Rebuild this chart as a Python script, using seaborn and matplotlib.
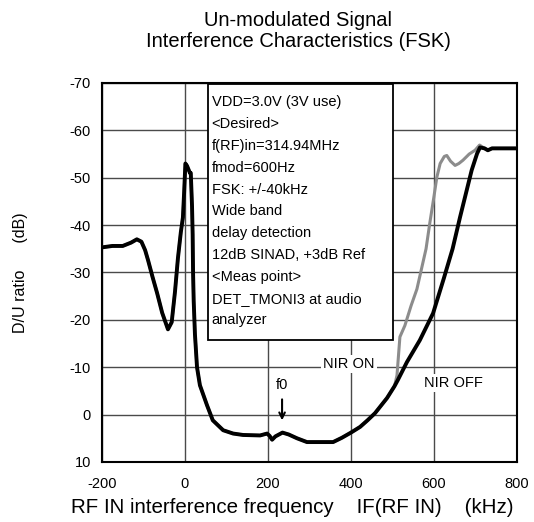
import pandas as pd
import numpy as np
import matplotlib
matplotlib.use('Agg')
import matplotlib.pyplot as plt
import matplotlib.patches as patches
import seaborn as sns

# NIR OFF (black) curve
freq_off = [-200, -175, -150, -130, -116, -105, -96, -89, -78, -67, -55, -41, -32,
            -24, -20, -17, -10, -5, -2, 1, 5, 12, 14, 17, 18.5, 19.5, 21, 24, 29,
            36, 53, 67, 92, 116, 140, 181, 198, 204, 210, 218, 235, 250, 270, 294,
            357, 378, 400, 422, 440, 458, 487, 505, 513, 535, 566, 598, 624, 645,
            663, 691, 704, 711, 722, 730, 740, 800]
du_off = [-35.3, -35.6, -35.6, -36.3, -37.0, -36.5, -34.7, -32.6, -29.0, -25.6, -21.5,
          -18.0, -19.5, -26.0, -30.0, -33.0, -38.5, -41.6, -47.0, -53.0, -52.5, -51.0,
          -51.0, -44.0, -38.0, -30.0, -24.0, -17.0, -10.0, -6.2, -2.0, 1.2, 3.3, 4.0,
          4.3, 4.4, 4.0, 4.5, 5.3, 4.6, 3.8, 4.2, 5.0, 5.8, 5.8, 4.9, 3.8, 2.6, 1.2,
          -0.3, -3.5, -6.0, -7.3, -11.1, -15.7, -21.4, -28.8, -35.0, -41.7, -51.6,
          -55.1, -56.4, -56.2, -55.8, -56.2, -56.2]

# NIR ON (gray) curve: same as NIR OFF up to ~505 kHz, then this tail
freq_on_tail = [511, 518, 530, 545, 559, 581, 590, 600, 607, 615, 625, 631, 640,
                651, 660, 670, 685, 699, 710, 722, 730, 740, 800]
du_on_tail = [-8.3, -16.4, -18.8, -23.0, -26.5, -35.0, -40.4, -46.0, -50.1, -53.0,
              -54.5, -54.7, -53.5, -52.6, -53.0, -53.7, -55.0, -55.8, -56.9, -56.2,
              -55.8, -56.2, -56.2]

x_ticks = [-200, 0, 200, 400, 600, 800]
y_ticks = [-70, -60, -50, -40, -30, -20, -10, 0, 10]

box_lines = ['VDD=3.0V (3V use)', '<Desired>', 'f(RF)in=314.94MHz', 'fmod=600Hz',
             'FSK: +/-40kHz', 'Wide band', 'delay detection', '12dB SINAD, +3dB Ref',
             '<Meas point>', 'DET_TMONI3 at audio', 'analyzer']

off_df = pd.DataFrame({'freq': freq_off, 'du': du_off})
common = off_df[off_df['freq'] <= 505]
on_df = pd.concat([common, pd.DataFrame({'freq': freq_on_tail, 'du': du_on_tail})],
                  ignore_index=True)

sns.set_style('white')
plt.rcParams['font.family'] = ['Liberation Sans', 'DejaVu Sans']
plt.rcParams['text.color'] = 'black'
plt.rcParams['axes.labelcolor'] = 'black'
plt.rcParams['xtick.color'] = 'black'
plt.rcParams['ytick.color'] = 'black'

fig = plt.figure(figsize=(5.34, 5.22), dpi=100)
ax = fig.add_axes([0.191, 0.115, 0.777, 0.726])

sns.lineplot(data=on_df, x='freq', y='du', color='#8c8c8c', linewidth=2.2,
             sort=False, ax=ax, zorder=4)
sns.lineplot(data=off_df, x='freq', y='du', color='black', linewidth=2.8,
             sort=False, ax=ax, zorder=5)

ax.set_xlim(-200, 800)
ax.set_ylim(10, -70)
ax.set_xticks(x_ticks)
ax.set_yticks(y_ticks)
ax.set_xticklabels([str(t) for t in x_ticks], fontsize=10.5)
ax.set_yticklabels([str(t) for t in y_ticks], fontsize=10.5)
ax.tick_params(axis='y', length=0, pad=8)
ax.tick_params(axis='x', length=0, pad=11)
ax.grid(True, color='#4a4a4a', linewidth=1.0)
for s in ax.spines.values():
    s.set_color('black')
    s.set_linewidth(1.5)

# condition box
ax.add_patch(patches.Rectangle((55, -69.7), 446, 54.0, facecolor='white',
                               edgecolor='black', linewidth=1.3, zorder=3))
for i, line in enumerate(box_lines):
    ax.text(64, -65.9 + i * 4.6, line, fontsize=10.5, va='center', ha='left', zorder=6)

ax.text(395, -10.6, 'NIR ON', fontsize=10.5, ha='center', va='center', zorder=6,
        bbox=dict(facecolor='white', edgecolor='none', pad=1.5))
ax.text(648, -6.6, 'NIR OFF', fontsize=10.5, ha='center', va='center', zorder=6,
        bbox=dict(facecolor='white', edgecolor='none', pad=1.5))
ax.text(234, -6.2, 'f0', fontsize=10.5, ha='center', va='center', zorder=6)
ax.annotate('', xy=(234, 1.8), xytext=(234, -3.8),
            arrowprops=dict(arrowstyle='->', color='black', lw=1.5), zorder=6)

fig.text(0.558, 0.940, 'Un-modulated Signal\nInterference Characteristics (FSK)',
         fontsize=14.5, ha='center', va='center', linespacing=1.15)
fig.text(0.547, 0.027, 'RF IN interference frequency    IF(RF IN)    (kHz)',
         fontsize=14.8, ha='center', va='center')
ax.set_xlabel('')
ax.set_ylabel('D/U ratio      (dB)', fontsize=11.5, labelpad=30)

fig.savefig('out.png', dpi=100)
